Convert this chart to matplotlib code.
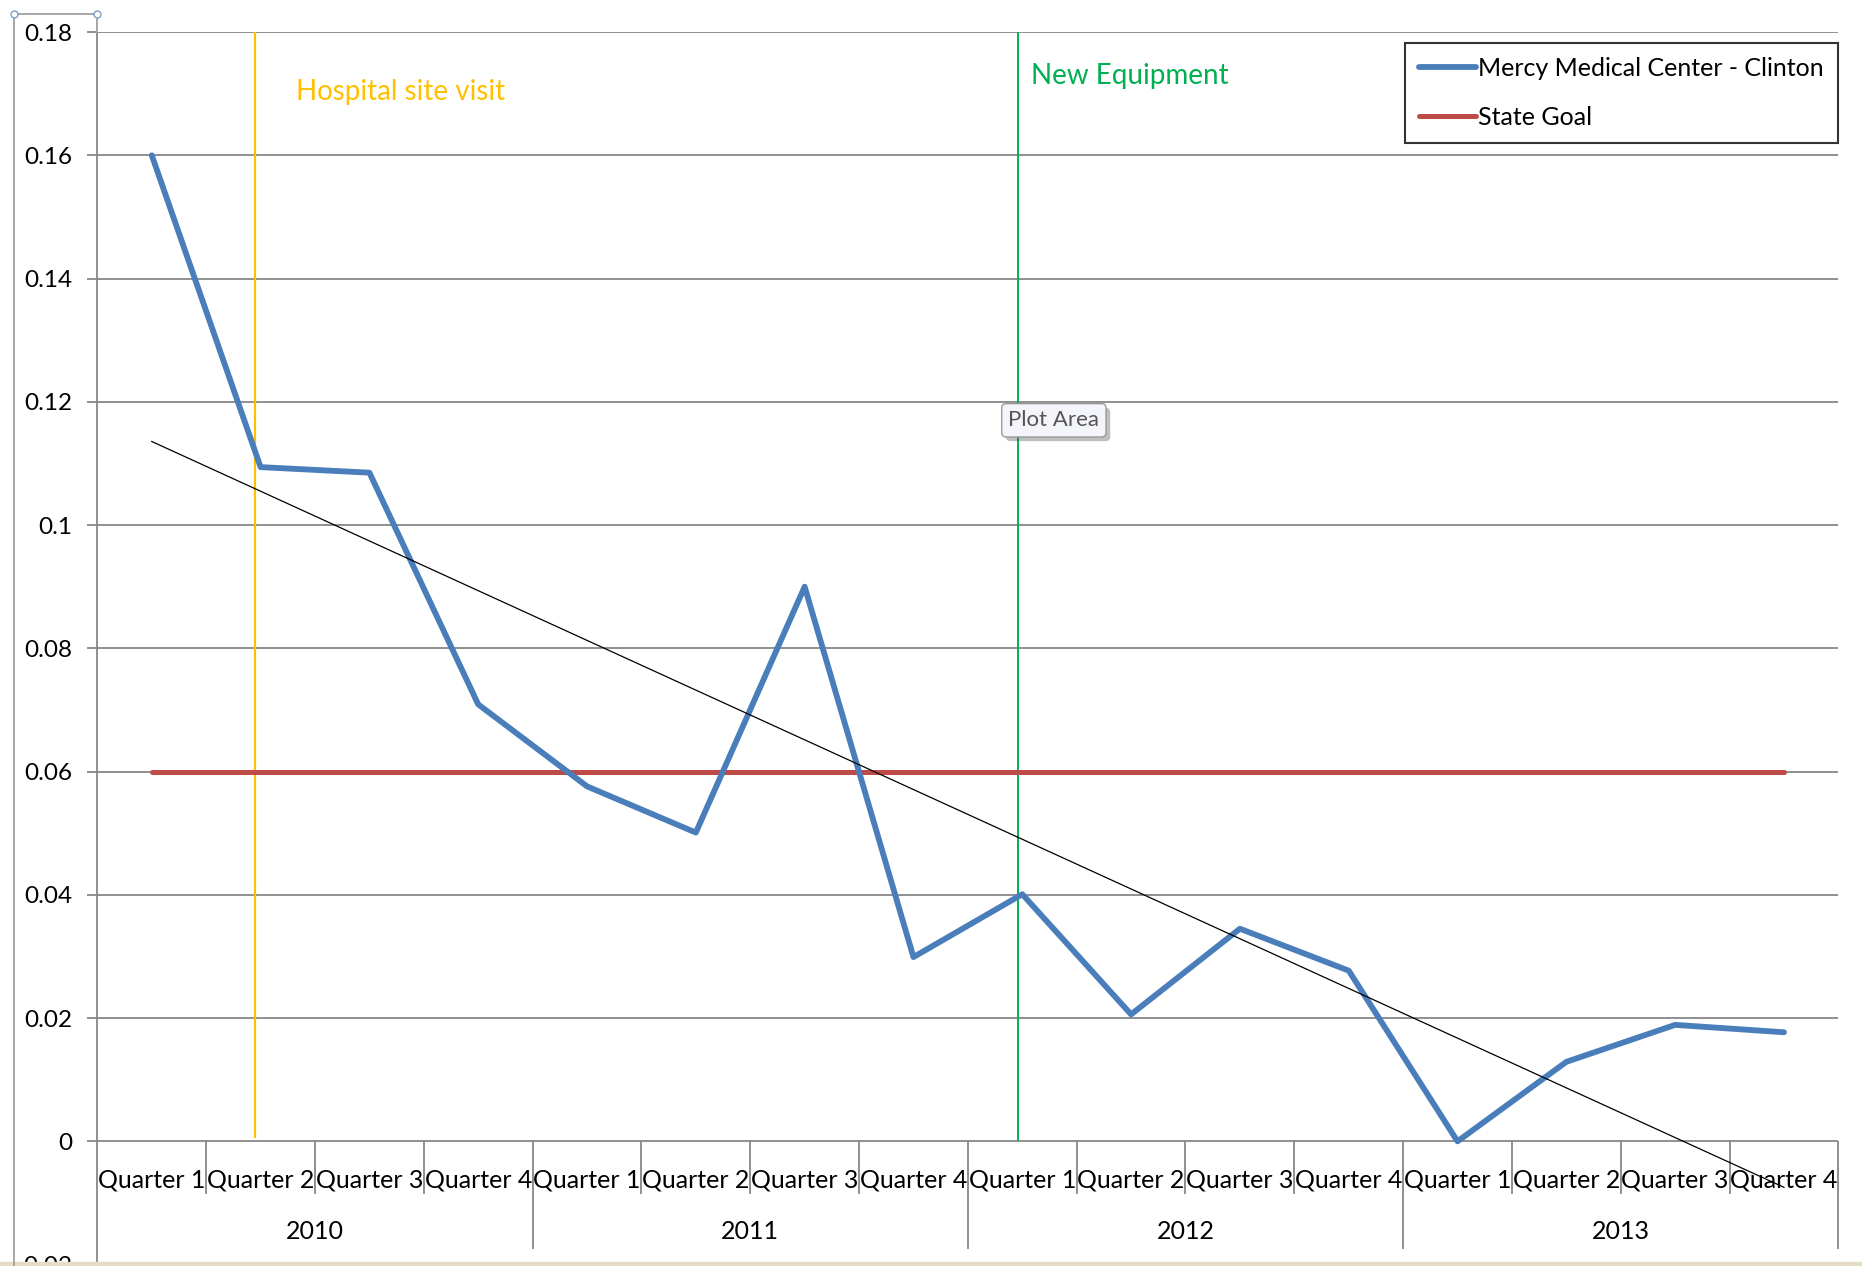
import numpy as np
import matplotlib
matplotlib.use('Agg')
import matplotlib.pyplot as plt
from matplotlib.lines import Line2D
from matplotlib.patches import Rectangle
import matplotlib.patheffects as pe

plt.rcParams['font.family'] = ['Lato', 'DejaVu Sans']

# data
years = ['2010', '2011', '2012', '2013']
quarters = ['Quarter 1', 'Quarter 2', 'Quarter 3', 'Quarter 4']
rate = [0.160, 0.1094, 0.1085, 0.0709, 0.0576, 0.0501, 0.0900, 0.0299,
        0.0401, 0.0206, 0.0345, 0.0277, 0.0, 0.0129, 0.0189, 0.0177]
goal = [0.06] * 16
site_visit_x = 1.95
new_equip_x = 8.96
yticks = [-0.02, 0, 0.02, 0.04, 0.06, 0.08, 0.1, 0.12, 0.14, 0.16, 0.18]
ylabels = ['-0.02', '0', '0.02', '0.04', '0.06', '0.08', '0.1', '0.12', '0.14', '0.16', '0.18']

blue = '#4A7EBB'
red = '#BE4B48'
grid_c = '#878787'

fig = plt.figure(figsize=(18.62, 12.66), dpi=100)
ax = fig.add_axes([0.0523, 0.0011, 0.935, 0.9736])

n = len(rate)
x = np.arange(1, n + 1)

# gridlines
for v in yticks[1:]:
    ax.axhline(v, color=grid_c, lw=1.3, zorder=1)

ax.plot(x, rate, color=blue, lw=4.2, solid_capstyle='round', zorder=4,
        label='Mercy Medical Center - Clinton')
ax.plot(x, goal, color=red, lw=3.6, solid_capstyle='round', zorder=3,
        label='State Goal')

# linear trend
k, b = np.polyfit(x, rate, 1)
ax.plot(x, k * x + b, color='black', lw=0.9, zorder=5)

# event lines
ax.vlines(site_visit_x, 0.0006, 0.18, color='#FFC000', lw=1.6, zorder=2)
ax.vlines(new_equip_x, 0, 0.18, color='#00B050', lw=1.4, zorder=2)

ax.set_xlim(0.5, n + 0.5)
ax.set_ylim(-0.02, 0.18)
ax.set_yticks(yticks)
ax.set_yticklabels(ylabels)
ax.set_xticks([])
ax.tick_params(axis='y', length=7, width=1.3, color=grid_c, labelsize=17.5, pad=11)
for s in ['top', 'right', 'bottom']:
    ax.spines[s].set_visible(False)
ax.spines['left'].set_color(grid_c)
ax.spines['left'].set_linewidth(1.3)

# category axis labels
for i in range(n):
    ax.text(x[i], -0.0062, quarters[i % 4], ha='center', va='center',
            fontsize=18, clip_on=False)
for j, yr in enumerate(years):
    ax.text(4 * j + 2.5, -0.0147, yr, ha='center', va='center',
            fontsize=18, clip_on=False)
for i in range(1, n + 1):
    bottom = -0.0175 if i % 4 == 0 else -0.0085
    ax.vlines(i + 0.5, bottom, 0, color=grid_c, lw=1.3, clip_on=False)

# annotations
fig.text(0.159, 0.927, 'Hospital site visit', color='#FFC000', fontsize=20, va='center')
fig.text(0.5536, 0.940, 'New Equipment', color='#00B050', fontsize=20, va='center')
fig.text(0.566, 0.668, 'Plot Area', color='#555555', fontsize=16, ha='center', va='center',
         bbox=dict(boxstyle='round,pad=0.3,rounding_size=0.2', fc='#f4f5fa', ec='#9a9a9a', lw=1,
                   path_effects=[pe.SimplePatchShadow(offset=(3, -3), alpha=0.35), pe.Normal()]))

leg = ax.legend(loc='upper right', bbox_to_anchor=(0.987, 0.966),
                bbox_transform=fig.transFigure, fontsize=18, frameon=True,
                fancybox=False, edgecolor='black', handlelength=2.3,
                handletextpad=0.08, labelspacing=1.05, borderpad=0.55, borderaxespad=0)
leg.get_frame().set_linewidth(1.5)

# selection frame around the value axis labels
fl = dict(color='#a0a0a0', lw=1.3, transform=fig.transFigure)
fig.add_artist(Line2D([0.0075, 0.0075], [0.0, 0.989], **fl))
fig.add_artist(Line2D([0.0075, 0.0523], [0.989, 0.989], **fl))
fig.add_artist(Line2D([0.0523, 0.0523], [0.9747, 0.989], **fl))
for hx in [0.0075, 0.0523]:
    fig.add_artist(Line2D([hx], [0.989], marker='o', ms=5, mfc='white', mec='#7f9fc8',
                          transform=fig.transFigure))

fig.add_artist(Rectangle((0, 0), 1, 0.003, transform=fig.transFigure, color='#e6dcc4'))

fig.savefig('out.png', dpi=100)
